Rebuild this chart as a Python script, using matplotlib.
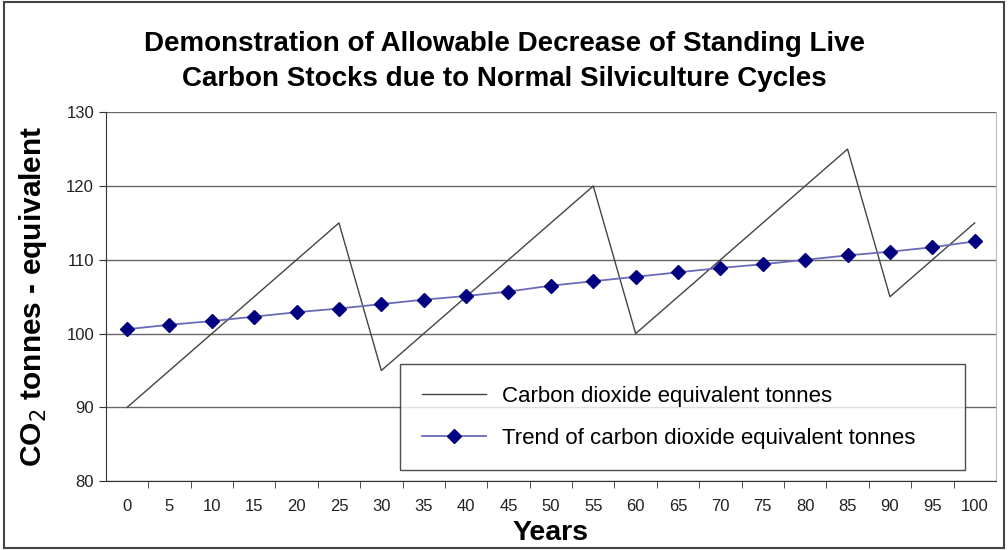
import matplotlib.pyplot as plt
from matplotlib.patches import Rectangle

plt.rcParams['font.family'] = ['Liberation Sans', 'DejaVu Sans']

years = [0, 5, 10, 15, 20, 25, 30, 35, 40, 45, 50, 55, 60, 65, 70, 75, 80, 85, 90, 95, 100]
co2_tonnes = [90, 95, 100, 105, 110, 115, 95, 100, 105, 110, 115, 120,
              100, 105, 110, 115, 120, 125, 105, 110, 115]
trend = [100.6, 101.2, 101.7, 102.3, 102.9, 103.4, 104.0, 104.6, 105.1, 105.7, 106.5,
         107.1, 107.7, 108.3, 108.9, 109.4, 110.0, 110.6, 111.1, 111.7, 112.5]

fig = plt.figure(figsize=(10.08, 5.5), dpi=100)
ax = fig.add_axes([0.105, 0.125, 0.883, 0.671])

x = list(range(len(years)))
ax.plot(x, co2_tonnes, color='#444444', lw=1.0, label='Carbon dioxide equivalent tonnes')
ax.plot(x, trend, color='#6a6ab8', lw=1.3, marker='D', markersize=7,
        markerfacecolor='#000080', markeredgecolor='#000080',
        label='Trend of carbon dioxide equivalent tonnes')

ax.set_xlim(-0.5, len(years) - 0.5)
ax.set_ylim(80, 130)
ax.set_yticks(range(80, 131, 10))
ax.set_xticks(x)
ax.set_xticklabels([str(y) for y in years])
ax.set_xticks([i + 0.5 for i in x[:-1]], minor=True)
ax.tick_params(axis='x', which='major', length=0, labelsize=12, pad=13, colors='#222222')
ax.tick_params(axis='x', which='minor', length=5, color='#333333')
ax.tick_params(axis='y', length=5, labelsize=12, color='#333333', labelcolor='#222222')
ax.grid(axis='y', color='#666666', lw=1.0)
ax.set_axisbelow(True)
ax.spines['top'].set_visible(False)
ax.spines['right'].set_color('#bbbbbb')
ax.spines['left'].set_color('#333333')
ax.spines['bottom'].set_color('#333333')

ax.set_xlabel('Years', fontsize=20.5, fontweight='bold', labelpad=4)
ax.set_ylabel('CO$_2$ tonnes - equivalent', fontsize=21.5, fontweight='bold', labelpad=12)

fig.suptitle('Demonstration of Allowable Decrease of Standing Live\nCarbon Stocks due to Normal Silviculture Cycles',
             fontsize=20, fontweight='bold', y=0.943, linespacing=1.42)

leg = ax.legend(loc='lower left', bbox_to_anchor=(0.331, 0.03, 0.634, 0.292), mode='expand',
                fontsize=16, frameon=True, fancybox=False, edgecolor='#222222',
                borderpad=0.95, labelspacing=0.97, handlelength=2.9, handletextpad=0.7,
                borderaxespad=0)
leg.get_frame().set_linewidth(1.0)

fig.patches.append(Rectangle((0.004, 0.004), 0.992, 0.992, transform=fig.transFigure,
                             fill=False, edgecolor='#444444', lw=1.5))

fig.savefig('out.png', dpi=100)
